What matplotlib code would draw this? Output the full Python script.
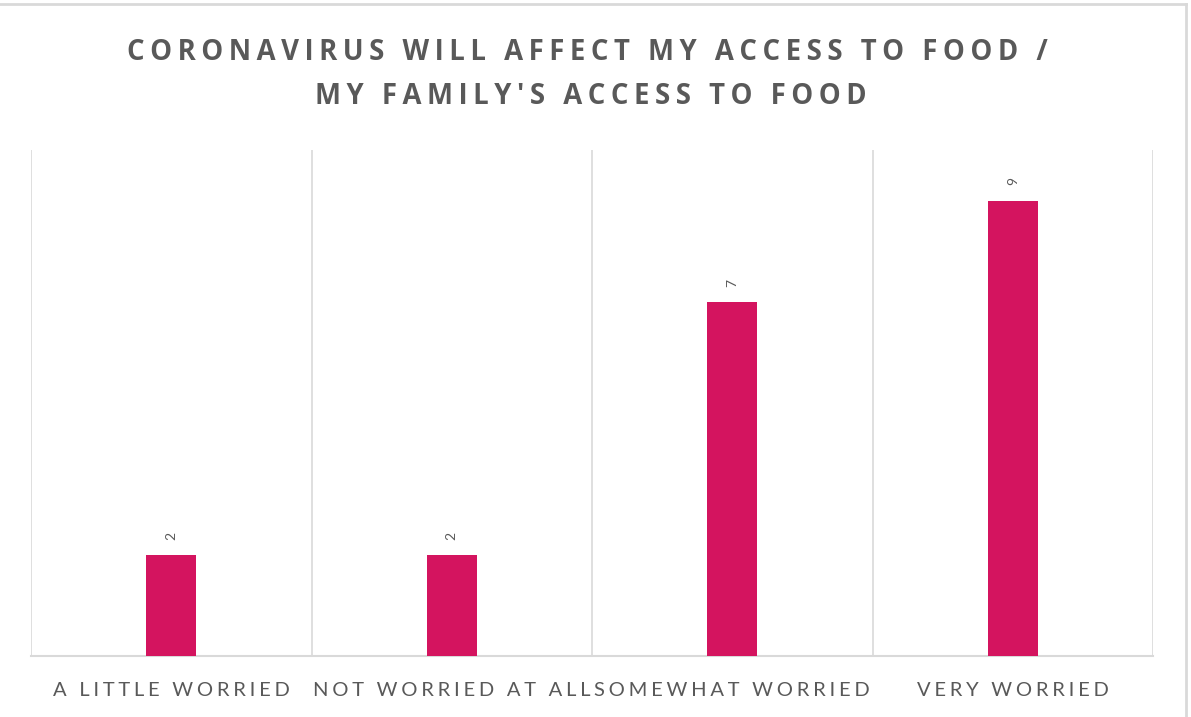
import numpy as np
import matplotlib.pyplot as plt
from matplotlib.lines import Line2D

categories = ['A LITTLE WORRIED', 'NOT WORRIED AT ALL', 'SOMEWHAT WORRIED', 'VERY WORRIED']
values = [2, 2, 7, 9]
title_lines = ['CORONAVIRUS WILL AFFECT MY ACCESS TO FOOD /', "MY FAMILY'S ACCESS TO FOOD"]

BAR = '#D4145F'
TXT = '#595959'
GRID = '#D9D9D9'
HAIR = '\u200a'


def spaced(s, n=1):
    """Fake letter spacing by putting hair spaces between the characters."""
    return (HAIR * n).join(s)


fig = plt.figure(figsize=(11.91, 7.17), dpi=100)
ax = fig.add_axes([31 / 1191, 1 - 656 / 717, (1153 - 31) / 1191, (656 - 150) / 717])

x = np.arange(len(categories))
ax.bar(x, values, width=0.18, color=BAR, zorder=3)

for xi, v in zip(x, values):
    ax.annotate(str(v), (xi, v), xytext=(0, 11), textcoords='offset points',
                rotation=90, ha='center', va='bottom', fontsize=10, color=TXT,
                family=['Lato', 'DejaVu Sans'])

for b in np.arange(-0.5, len(categories)):
    ax.axvline(b, color=GRID, lw=1.2, zorder=1)

ax.set_xlim(-0.5, len(categories) - 0.5)
ax.set_ylim(0, 10)
ax.set_yticks([])
ax.set_xticks(x)
ax.set_xticklabels([spaced(c, 3) for c in categories], fontsize=14.5, color=TXT,
                   family=['Lato', 'DejaVu Sans'])
ax.tick_params(axis='x', length=0, pad=19)
for s in ['top', 'left', 'right']:
    ax.spines[s].set_visible(False)
ax.spines['bottom'].set_color(GRID)
ax.spines['bottom'].set_linewidth(1.5)

fig.text(0.493, 1 - 52 / 717, spaced(title_lines[0], 2), ha='center', va='center',
         fontsize=19.8, fontweight='bold', color=TXT, family=['Open Sans', 'DejaVu Sans'])
fig.text(0.496, 1 - 97 / 717, spaced(title_lines[1], 2), ha='center', va='center',
         fontsize=19.8, fontweight='bold', color=TXT, family=['Open Sans', 'DejaVu Sans'])

# light frame round the chart area (top and right edges show in the picture)
fig.add_artist(Line2D([0, 1186 / 1191], [1 - 4 / 717, 1 - 4 / 717], transform=fig.transFigure,
                      color=GRID, lw=2))
fig.add_artist(Line2D([1186 / 1191, 1186 / 1191], [0, 1 - 4 / 717], transform=fig.transFigure,
                      color=GRID, lw=2))

fig.savefig('out.png', dpi=100)
